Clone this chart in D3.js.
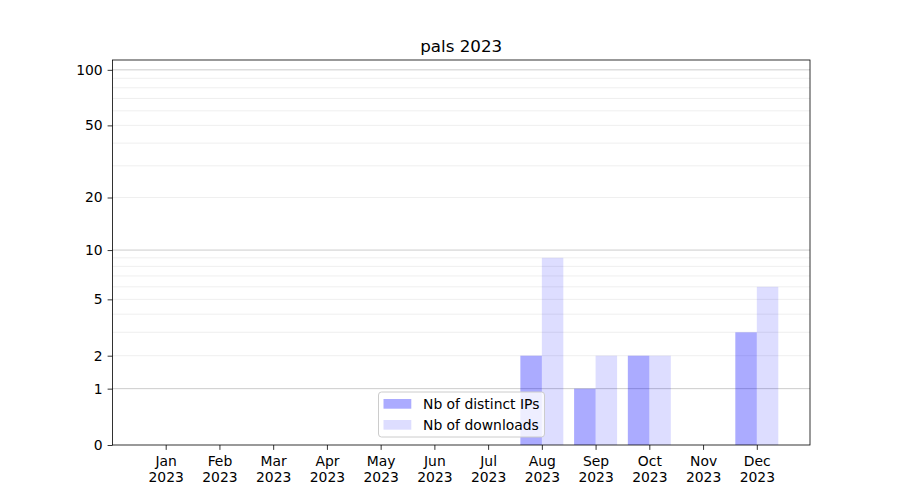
<!DOCTYPE html>
<html>
<head>
<meta charset="utf-8">
<script src="https://cdn.jsdelivr.net/npm/d3@7"></script>
<style>
body{margin:0;background:#fff;}
text{font-family:"DejaVu Sans",sans-serif;}
</style>
</head>
<body>
<svg id="chart" width="900" height="500"></svg>
<script>
const months = ["Jan","Feb","Mar","Apr","May","Jun","Jul","Aug","Sep","Oct","Nov","Dec"];
const yearLabel = "2023";
const distinctIPs = [0,0,0,0,0,0,0,2,1,2,0,3];
const downloads   = [0,0,0,0,0,0,0,9,2,2,0,6];
const yTicks = [0,1,2,5,10,20,50,100];
const majorGrid = [1,10,100];
const minorGrid = [2,3,4,5,6,7,8,9,20,30,40,50,60,70,80,90];
const seriesNames = ["Nb of distinct IPs","Nb of downloads"];
const title = "pals 2023";

const W=900,H=500;
const L=112.5,R=810,T=60,B=445;
const svg=d3.select("#chart");

const x=d3.scaleLinear().domain([-0.99,11.99]).range([L,R]);
const y=d3.scaleSymlog().constant(1).domain([0,113]).range([B,T]);

const g=svg.append("g");
// grid
g.selectAll(".minor").data(minorGrid).join("line")
  .attr("x1",L).attr("x2",R).attr("y1",d=>y(d)).attr("y2",d=>y(d))
  .attr("stroke","#ebebeb").attr("stroke-width",0.8);
g.selectAll(".major").data(majorGrid).join("line")
  .attr("x1",L).attr("x2",R).attr("y1",d=>y(d)).attr("y2",d=>y(d))
  .attr("stroke","#cccccc").attr("stroke-width",1);

// bars
const bw=0.4;
g.selectAll(".ip").data(distinctIPs).join("rect")
  .attr("x",(d,i)=>x(i-bw)).attr("width",(d,i)=>x(i)-x(i-bw))
  .attr("y",d=>y(d)).attr("height",d=>B-y(d))
  .attr("fill","blue").attr("fill-opacity",0.33);
g.selectAll(".dl").data(downloads).join("rect")
  .attr("x",(d,i)=>x(i)).attr("width",(d,i)=>x(i+bw)-x(i))
  .attr("y",d=>y(d)).attr("height",d=>B-y(d))
  .attr("fill","blue").attr("fill-opacity",0.135);

// axes
const yAxis=d3.axisLeft(y).tickValues(yTicks).tickFormat(d3.format("d")).tickSize(4.9).tickPadding(4.9);
const ya=svg.append("g").attr("transform",`translate(${L},0)`).call(yAxis);
ya.select(".domain").remove();
ya.selectAll("text").attr("font-size","13.9px").attr("fill","#000");
ya.selectAll("line").attr("stroke","#000").attr("stroke-width",0.8);

const xAxis=d3.axisBottom(x).tickValues(d3.range(12)).tickFormat(()=>"" ).tickSize(4.9);
const xa=svg.append("g").attr("transform",`translate(0,${B})`).call(xAxis);
xa.select(".domain").remove();
xa.selectAll("line").attr("stroke","#000").attr("stroke-width",0.8);
xa.selectAll(".tick").each(function(d){
  const t=d3.select(this).append("text").attr("fill","#000").attr("font-size","13.9px").attr("text-anchor","middle");
  t.append("tspan").attr("x",0).attr("y",21).text(months[d]);
  t.append("tspan").attr("x",0).attr("y",37).text(yearLabel);
});

// frame
svg.append("rect").attr("x",L).attr("y",T).attr("width",R-L).attr("height",B-T)
  .attr("fill","none").attr("stroke","#000").attr("stroke-width",0.8);

// title
svg.append("text").attr("x",(L+R)/2).attr("y",T-8).attr("text-anchor","middle")
  .attr("font-size","16.7px").attr("fill","#000").text(title);

// legend
const lg=svg.append("g");
lg.append("rect").attr("x",378.5).attr("y",392).attr("width",166).attr("height",45).attr("rx",3)
  .attr("fill","#fff").attr("fill-opacity",0.8).attr("stroke","#cccccc").attr("stroke-width",1);
const ops=[0.33,0.135];
seriesNames.forEach((n,i)=>{
  const cy=404+i*21;
  lg.append("rect").attr("x",383.5).attr("y",cy-5).attr("width",27.8).attr("height",9.7)
    .attr("fill","blue").attr("fill-opacity",ops[i]);
  lg.append("text").attr("x",423).attr("y",cy+5).attr("font-size","13.9px").attr("fill","#000").text(n);
});
</script>
</body>
</html>
